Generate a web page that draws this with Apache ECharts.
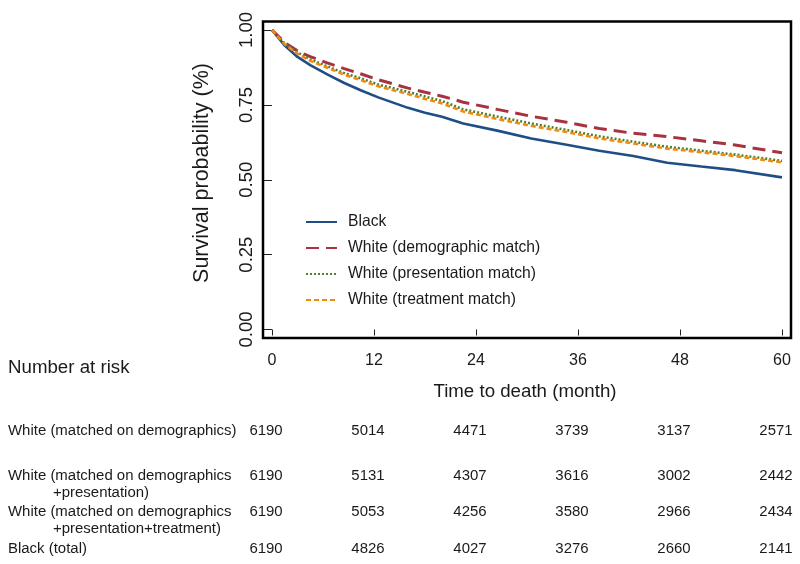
<!DOCTYPE html>
<html>
<head>
<meta charset="utf-8">
<script src="https://cdn.jsdelivr.net/npm/echarts@6/dist/echarts.min.js"></script>
<style>html,body{margin:0;padding:0;background:#fff;}#c{width:800px;height:564px;}</style>
</head>
<body>
<div id="c"></div>
<script>
// ---- data ----
const months = [0, 1.5, 3, 4.5, 6.5, 8.5, 10.5, 12.5, 14.5, 16, 18, 20, 22.5, 26.5, 30.5, 34.5, 38.5, 42.5, 46.5, 50.5, 54.5, 60];
const black        = [1.0, 0.948, 0.910, 0.883, 0.852, 0.823, 0.798, 0.775, 0.755, 0.740, 0.724, 0.710, 0.688, 0.664, 0.638, 0.618, 0.597, 0.579, 0.557, 0.544, 0.532, 0.508];
const whiteDemo    = [1.0, 0.958, 0.930, 0.911, 0.890, 0.871, 0.853, 0.834, 0.818, 0.806, 0.792, 0.779, 0.759, 0.735, 0.712, 0.693, 0.671, 0.655, 0.644, 0.630, 0.616, 0.590];
const whitePres    = [1.0, 0.955, 0.925, 0.902, 0.879, 0.856, 0.838, 0.818, 0.804, 0.793, 0.778, 0.763, 0.735, 0.711, 0.688, 0.667, 0.645, 0.627, 0.610, 0.597, 0.584, 0.563];
const whiteTreat   = [1.0, 0.952, 0.921, 0.897, 0.874, 0.851, 0.832, 0.812, 0.797, 0.786, 0.770, 0.755, 0.728, 0.703, 0.680, 0.660, 0.638, 0.621, 0.604, 0.592, 0.579, 0.558];
const seriesNames  = ['Black', 'White (demographic match)', 'White (presentation match)', 'White (treatment match)'];

const xTicks = [0, 12, 24, 36, 48, 60];
const yTicks = [0, 0.25, 0.5, 0.75, 1.0];

const riskRowLabels = [
  ['White (matched on demographics)'],
  ['White (matched on demographics', '+presentation)'],
  ['White (matched on demographics', '+presentation+treatment)'],
  ['Black (total)']
];
const riskDemo  = [6190, 5014, 4471, 3739, 3137, 2571];
const riskPres  = [6190, 5131, 4307, 3616, 3002, 2442];
const riskTreat = [6190, 5053, 4256, 3580, 2966, 2434];
const riskBlack = [6190, 4826, 4027, 3276, 2660, 2141];
const riskRows  = [riskDemo, riskPres, riskTreat, riskBlack];

// ---- fonts ----
function hasFont(name) {
  const c = document.createElement('canvas').getContext('2d');
  const s = 'White (matched) 0123456789';
  c.font = '40px monospace';
  const a = c.measureText(s).width;
  c.font = "40px '" + name + "', monospace";
  const b = c.measureText(s).width;
  return Math.abs(a - b) > 0.5;
}
const narrowOK = hasFont('Liberation Sans Narrow');
const HF = narrowOK ? "'Liberation Sans Narrow', 'Liberation Sans', Arial, sans-serif" : "'Liberation Sans', Arial, sans-serif";
const K = narrowOK ? 1.06 : 0.87;   // horizontal text size factor
const VF = "'Liberation Sans', Arial, sans-serif";
const TXT = '#1a1a1a';

const chart = echarts.init(document.getElementById('c'), null, {renderer: 'canvas'});

function pairs(vals) { return months.map((m, i) => [m, vals[i]]); }

const colors = ['#1f4e86', '#a8323f', '#4f7f2a', '#f28a10'];
const dashes = ['solid', [13, 7], [2, 2], [5, 3]];
const widths = [2.6, 3, 2.6, 2.6];
const allVals = [black, whiteDemo, whitePres, whiteTreat];

chart.setOption({
  animation: false,
  backgroundColor: '#fff',
  grid: {left: 263, top: 21.5, width: 528, height: 316.5, show: true, borderColor: '#000', borderWidth: 2.5, backgroundColor: 'transparent'},
  xAxis: {
    type: 'value', min: -1.06, max: 61.06,
    axisLine: {show: false},
    axisTick: {show: true, customValues: xTicks, length: 6, lineStyle: {color: '#222', width: 1}},
    axisLabel: {show: true, customValues: xTicks, margin: 15, fontSize: 18.5 * K, fontFamily: HF, color: TXT},
    splitLine: {show: false}
  },
  yAxis: {
    type: 'value', min: -0.0284, max: 1.0284,
    axisLine: {show: false},
    axisTick: {show: true, customValues: yTicks, length: 8, lineStyle: {color: '#222', width: 1}},
    axisLabel: {show: true, customValues: yTicks, rotate: 90, margin: 7, fontSize: 18.5, fontFamily: VF, color: TXT,
      formatter: v => v.toFixed(2)},
    splitLine: {show: false}
  },
  legend: {
    orient: 'vertical', left: 305, top: 214, padding: 0,
    itemWidth: 31, itemHeight: 14, itemGap: 10,
    itemStyle: {opacity: 0},
    textStyle: {fontSize: 18 * K, fontFamily: HF, color: TXT, padding: [0, 0, 0, 6]},
    data: seriesNames
  },
  series: seriesNames.map((n, i) => ({
    name: n, type: 'line', symbol: 'none', showSymbol: false,
    data: pairs(allVals[i]),
    lineStyle: {color: colors[i], width: widths[i], type: dashes[i]},
    itemStyle: {color: colors[i]}
  }))
});

// ---- texts and number-at-risk table ----
const g = [];
g.push({type: 'text', x: 202, y: 173, rotation: Math.PI / 2,
  style: {text: 'Survival probability (%)', font: '21.5px ' + VF, fill: TXT, align: 'center', verticalAlign: 'middle'}});
g.push({type: 'text', x: 525, y: 392,
  style: {text: 'Time to death (month)', font: (21.5 * K) + 'px ' + HF, fill: TXT, align: 'center', verticalAlign: 'middle'}});
g.push({type: 'text', x: 8, y: 368,
  style: {text: 'Number at risk', font: (21.5 * K) + 'px ' + HF, fill: TXT, align: 'left', verticalAlign: 'middle'}});

const rowY = [431, 476, 512, 549];
const subY = [null, 493, 529, null];
const tf = (17.2 * K) + 'px ' + HF;
riskRowLabels.forEach((lab, r) => {
  g.push({type: 'text', x: 8, y: rowY[r], style: {text: lab[0], font: tf, fill: TXT, align: 'left', verticalAlign: 'middle'}});
  if (lab[1]) g.push({type: 'text', x: 53, y: subY[r], style: {text: lab[1], font: tf, fill: TXT, align: 'left', verticalAlign: 'middle'}});
  riskRows[r].forEach((v, j) => {
    const px = chart.convertToPixel({xAxisIndex: 0}, xTicks[j]);
    g.push({type: 'text', x: px - 6, y: rowY[r], style: {text: String(v), font: tf, fill: TXT, align: 'center', verticalAlign: 'middle'}});
  });
});
chart.setOption({graphic: {elements: g}});
</script>
</body>
</html>
